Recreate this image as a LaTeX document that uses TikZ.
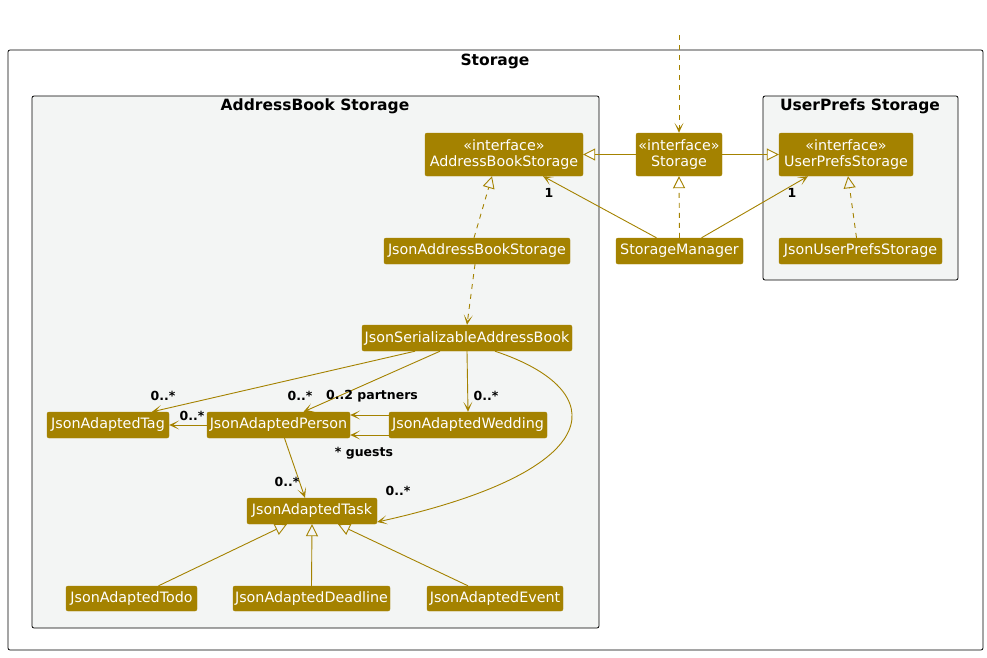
\documentclass[tikz,border=0pt]{standalone}
\usepackage{fontspec}
\setmainfont{DejaVu Sans}
\usetikzlibrary{arrows.meta}
\definecolor{gold}{RGB}{164,130,0}
\definecolor{pkgbg}{RGB}{243,245,244}
\tikzset{
  cls/.style={draw=gold, fill=gold, text=white, rounded corners=2pt, inner sep=0pt,
    align=center, font=\fontsize{14.3}{16}\selectfont},
  frame/.style={draw=black, line width=0.8pt, rounded corners=2pt, inner sep=0pt},
  ftitle/.style={font=\fontsize{15.5}{18}\selectfont\bfseries, inner sep=0pt},
  lbl/.style={font=\fontsize{12.5}{14}\selectfont\bfseries, inner sep=0pt},
  assoc/.style={draw=gold, line width=0.9pt, -{Stealth[length=10pt,width=9pt,inset=6pt]}},
  dep/.style={assoc, dashed, dash pattern=on 5pt off 5pt},
  ext/.style={draw=gold, line width=0.9pt, -{Triangle[open, length=12pt, width=12pt, fill=white]}},
  extin/.style={ext, -{Triangle[open, length=12pt, width=12pt, fill=pkgbg]}},
  impl/.style={ext, dashed, dash pattern=on 5pt off 5pt},
  implin/.style={extin, dashed, dash pattern=on 5pt off 5pt},
}
\begin{document}
\begin{tikzpicture}[x=1pt,y=-1pt]
\useasboundingbox (0,0) rectangle (987,657);

% packages
\node[frame, minimum width=975pt, minimum height=600pt] (storagepkg) at (495.5,350) {};
\node[ftitle] (storagetitle) at (495,61) {Storage};
\node[frame, fill=pkgbg, minimum width=567pt, minimum height=532pt] (abpkg) at (315.5,362) {};
\node[ftitle] (abtitle) at (315,106) {AddressBook Storage};
\node[frame, fill=pkgbg, minimum width=195pt, minimum height=184pt] (uppkg) at (860.5,188) {};
\node[ftitle] (uptitle) at (860,106) {UserPrefs Storage};

% classes
\node[cls, minimum width=158pt, minimum height=43pt] (absI) at (504,154.5) {«interface»\\AddressBookStorage};
\node[cls, minimum width=86pt, minimum height=43pt] (stI) at (679,154.5) {«interface»\\Storage};
\node[cls, minimum width=134pt, minimum height=43pt] (upI) at (846,154.5) {«interface»\\UserPrefsStorage};
\node[cls, minimum width=186pt, minimum height=26pt] (jabs) at (477,251) {JsonAddressBookStorage};
\node[cls, minimum width=127pt, minimum height=26pt] (sm) at (679.5,251) {StorageManager};
\node[cls, minimum width=163pt, minimum height=26pt] (jups) at (860.5,251) {JsonUserPrefsStorage};
\node[cls, minimum width=210pt, minimum height=26pt] (jsab) at (467,338) {JsonSerializableAddressBook};
\node[cls, minimum width=122pt, minimum height=26pt] (tag) at (108,425) {JsonAdaptedTag};
\node[cls, minimum width=143pt, minimum height=26pt] (person) at (278.5,425) {JsonAdaptedPerson};
\node[cls, minimum width=158pt, minimum height=26pt] (wedding) at (468,425) {JsonAdaptedWedding};
\node[cls, minimum width=130pt, minimum height=26pt] (task) at (312,511) {JsonAdaptedTask};
\node[cls, minimum width=131pt, minimum height=25pt] (todo) at (131.5,598.5) {JsonAdaptedTodo};
\node[cls, minimum width=157pt, minimum height=25pt] (deadline) at (311.5,598.5) {JsonAdaptedDeadline};
\node[cls, minimum width=136pt, minimum height=25pt] (event) at (495,598.5) {JsonAdaptedEvent};

% incoming dependency on Storage
\coordinate (entry) at (679,35);
\draw[dep] (entry) -- (stI.north);

% Storage interface hierarchy
\draw[ext] (stI.west) -- (absI.east);
\draw[ext] (stI.east) -- (upI.west);
\draw[impl] (sm.north) -- (stI.south);
\draw[assoc] ([xshift=-23pt]sm.north) -- ([xshift=39pt]absI.south);
\node[lbl] (mAbs) at (549,193) {1};
\draw[assoc] ([xshift=22pt]sm.north) -- ([xshift=-38pt]upI.south);
\node[lbl] (mUp) at (792,193) {1};
\draw[implin] ([xshift=-3pt]jabs.north) -- ([xshift=-12pt]absI.south);
\draw[implin] ([xshift=-4pt]jups.north) -- ([xshift=2pt]upI.south);

% address book contents
\draw[dep] ([xshift=-2pt]jabs.south) -- (jsab.north);
\draw[assoc] ([xshift=-52pt]jsab.south) -- ([xshift=44pt]tag.north);
\node[lbl] (mTag) at (163,396) {0..*};
\draw[assoc] ([xshift=-27pt]jsab.south) -- ([xshift=25pt]person.north);
\node[lbl] (mPerson) at (300,396) {0..*};
\draw[assoc] (jsab.south) -- (wedding.north);
\node[lbl] (mWedding) at (486,396) {0..*};
\draw[assoc] ([xshift=28pt]jsab.south) .. controls (612,390) and (612,470) .. ([yshift=-11pt]task.east);
\node[lbl] (mTask) at (398,491) {0..*};

\draw[assoc] (person.west) -- (tag.east);
\node[lbl] (mPTag) at (192,416) {0..*};
\draw[assoc] ([yshift=-10pt]wedding.west) -- ([yshift=-10pt]person.east);
\node[lbl] (mPartners) at (372,396) {0..2 partners};
\draw[assoc] ([yshift=10pt]wedding.west) -- ([yshift=10pt]person.east);
\node[lbl] (mGuests) at (364,453) {* guests};
\draw[assoc] ([xshift=6pt]person.south) -- ([xshift=-7pt]task.north);
\node[lbl] (mPTask) at (287,482) {0..*};

% task hierarchy
\draw[extin] ([xshift=27pt]todo.north) -- ([xshift=-25pt]task.south);
\draw[extin] (deadline.north) -- (task.south);
\draw[extin] ([xshift=-27pt]event.north) -- ([xshift=26pt]task.south);
\end{tikzpicture}
\end{document}
